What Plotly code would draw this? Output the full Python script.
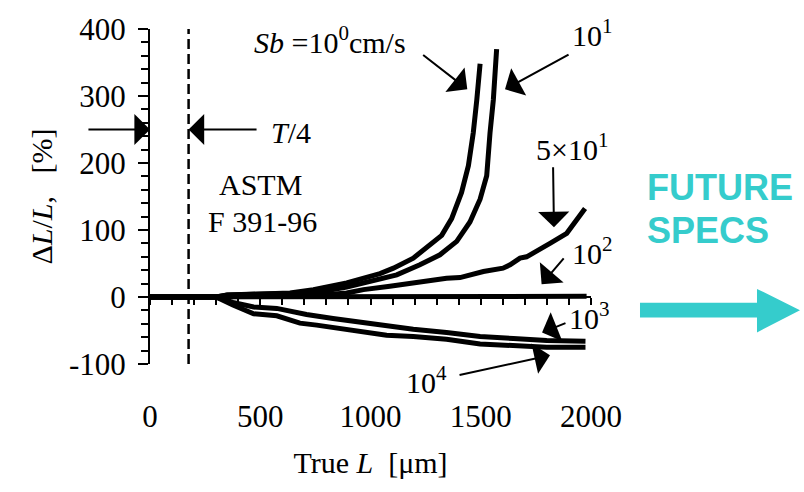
import plotly.graph_objects as go

# Relative length error dL/L [%] versus true length L [um] for several Sb values
L_sb1 = [0, 300, 350, 450, 550, 635, 741, 892, 1043, 1104, 1194, 1255, 1323, 1368, 1413, 1444, 1466, 1482, 1497]
d_sb1 = [0, 0, 3, 4, 5, 6, 11, 21, 35, 43, 58, 73, 92, 117, 156, 196, 245, 294, 348]

L_sb10 = [0, 300, 350, 450, 550, 635, 740, 892, 1043, 1119, 1224, 1315, 1391, 1451, 1497, 1527, 1542, 1557, 1572]
d_sb10 = [0, 0, 3, 4, 4, 5, 6, 15, 27, 33, 48, 63, 83, 112, 146, 181, 245, 294, 370]

L_sb50 = [0, 300, 400, 600, 741, 892, 968, 1088, 1194, 1240, 1345, 1406, 1497, 1512, 1601, 1633, 1678, 1708, 1814, 1890, 1973]
d_sb50 = [0, 0, 2, 2, 2, 6, 11, 16, 21, 22, 28, 29, 37, 38, 43, 48, 58, 60, 80, 95, 132]

L_sb100 = [0, 500, 1000, 1500, 1980]
d_sb100 = [0, 0, 0, 1, 1]

L_sb1000 = [0, 300, 376, 470, 575, 710, 830, 940, 1043, 1134, 1194, 1345, 1497, 1648, 1799, 1975]
d_sb1000 = [0, 0, -8, -15, -17, -26, -32, -37, -41, -45, -48, -53, -59, -62, -65, -66]

L_sb10000 = [0, 300, 376, 470, 575, 680, 756, 862, 983, 1073, 1194, 1345, 1497, 1648, 1799, 1975]
d_sb10000 = [0, 0, -12, -25, -28, -39, -42, -47, -52, -57, -59, -63, -70, -72, -75, -75]

# (L, dL/L, x-axis) per curve; the Sb = 1e2 curve sits on the labelled bottom axis
series = [
    (L_sb1, d_sb1, "x"), (L_sb10, d_sb10, "x"), (L_sb50, d_sb50, "x"),
    (L_sb100, d_sb100, "x2"), (L_sb1000, d_sb1000, "x"), (L_sb10000, d_sb10000, "x"),
]

# ASTM F 391-96 limit (T/4) and axes
t_quarter = 175
x_range = [0, 2000]
y_range = [-100, 400]
x_ticks = [0, 500, 1000, 1500, 2000]
y_ticks = [-100, 0, 100, 200, 300, 400]
y_ticktext = ["-100", "0", "100", "200", "300", "400"]

SERIF = "Liberation Serif, Times New Roman, serif"
SANS = "Liberation Sans, Arial, sans-serif"
TEAL = "#35CCCC"
FS = 30
TICK_FS = 31

W, H = 804, 492
ML, MR, MT, MB = 150, 213, 25, 128
PW, PH = W - ML - MR, H - MT - MB


def paper(px, py):
    return (px - ML) / PW, (H - MB - py) / PH


def data_to_paper(x, y):
    return ((x - x_range[0]) / (x_range[1] - x_range[0]),
            (y - y_range[0]) / (y_range[1] - y_range[0]))


fig = go.Figure()
for L, d, xa in series:
    fig.add_trace(go.Scatter(x=L, y=d, mode="lines", xaxis=xa, yaxis="y",
                             line=dict(color="black", width=5),
                             showlegend=False, hoverinfo="skip"))

fig.update_layout(
    width=W, height=H, autosize=False,
    margin=dict(l=ML, r=MR, t=MT, b=MB, pad=0),
    paper_bgcolor="white", plot_bgcolor="white",
    font=dict(family=SERIF, size=FS, color="black"),
    showlegend=False,
    # axis drawn along dL/L = 0 with ticks every 100 um
    xaxis=dict(range=x_range, anchor="free",
               position=(0 - y_range[0]) / (y_range[1] - y_range[0]),
               showline=True, linecolor="black", linewidth=2,
               ticks="outside", ticklen=7, tickwidth=1.5, tickcolor="black",
               dtick=100, tick0=0, showticklabels=False,
               showgrid=False, zeroline=False),
    # bottom axis carrying the labels
    xaxis2=dict(range=x_range, overlaying="x", anchor="y", side="bottom",
                showline=False, ticks="", tickvals=x_ticks,
                ticklabelstandoff=31,
                tickfont=dict(family=SERIF, size=TICK_FS),
                title=dict(text="True <i>L</i>  [\u03bcm]", standoff=18,
                           font=dict(family=SERIF, size=FS)),
                showgrid=False, zeroline=False),
    yaxis=dict(range=y_range, showline=True, linecolor="black", linewidth=2,
               ticks="outside", ticklen=10, tickwidth=1.5, tickcolor="black",
               tickvals=y_ticks, ticktext=y_ticktext,
               ticklabelstandoff=6,
               minor=dict(dtick=20, tick0=0, ticks="outside", ticklen=7,
                          tickwidth=1.5, tickcolor="black"),
               tickfont=dict(family=SERIF, size=TICK_FS),
               title=dict(text="\u0394<i>L</i>/<i>L</i>,\u00a0\u00a0\u00a0[%]", standoff=7,
                          font=dict(family=SERIF, size=FS)),
               showgrid=False, zeroline=False),
)

# T/4 dashed marker
fig.add_shape(type="line", xref="x", yref="y", x0=t_quarter, x1=t_quarter,
              y0=y_range[0], y1=y_range[1],
              line=dict(color="black", width=2.5, dash="10px,5px"))

arrow_style = dict(showarrow=True, arrowhead=1, arrowwidth=2, arrowsize=2.6,
                   arrowcolor="black", axref="x", ayref="y", xref="x", yref="y",
                   text="", standoff=0)

arrows = [
    ((1232, 363), (1439, 310)),
    ((1905, 363), (1610, 310)),
    ((1828, 196), (1832, 104)),
    ((1882, 60), (1776, 19)),
    ((1891, -38), (1778, -53)),
    ((1397, -117), (1814, -87)),
    ((-286, 250), (0, 250)),
    ((490, 250), (t_quarter, 250)),
]
for (ax, ay), (x, y) in arrows:
    fig.add_annotation(x=x, y=y, ax=ax, ay=ay, **arrow_style)

labels = [
    (818, 384, "<i>Sb</i> =10<sup>0</sup>cm/s"),
    (2005, 394, "10<sup>1</sup>"),
    (1912, 224, "5\u00d710<sup>1</sup>"),
    (2005, 68, "10<sup>2</sup>"),
    (1995, -29, "10<sup>3</sup>"),
    (1252, -124, "10<sup>4</sup>"),
    (640, 245, "<i>T</i>/4"),
    (503, 168, "ASTM"),
    (508, 112, "F 391-96"),
]
for x, y, t in labels:
    px_, py_ = data_to_paper(x, y)
    fig.add_annotation(x=px_, y=py_, xref="paper", yref="paper", text=t,
                       showarrow=False, font=dict(family=SERIF, size=FS),
                       xanchor="center", yanchor="middle")

# FUTURE SPECS callout
for txt, cy in (("FUTURE", 185), ("SPECS", 228.5)):
    px_, py_ = paper(645, cy)
    fig.add_annotation(x=px_, y=py_, xref="paper", yref="paper", text="<b>%s</b>" % txt,
                       showarrow=False, xanchor="left", yanchor="middle",
                       font=dict(family=SANS, size=36, color=TEAL))

pts = [(640, 302), (757, 302), (757, 288), (800, 309.5), (757, 332), (757, 317), (640, 317)]
path = "M " + " L ".join("%.4f,%.4f" % paper(a, b) for a, b in pts) + " Z"
fig.add_shape(type="path", xref="paper", yref="paper", path=path,
              fillcolor=TEAL, line=dict(width=0))

fig.write_html("out.html")
